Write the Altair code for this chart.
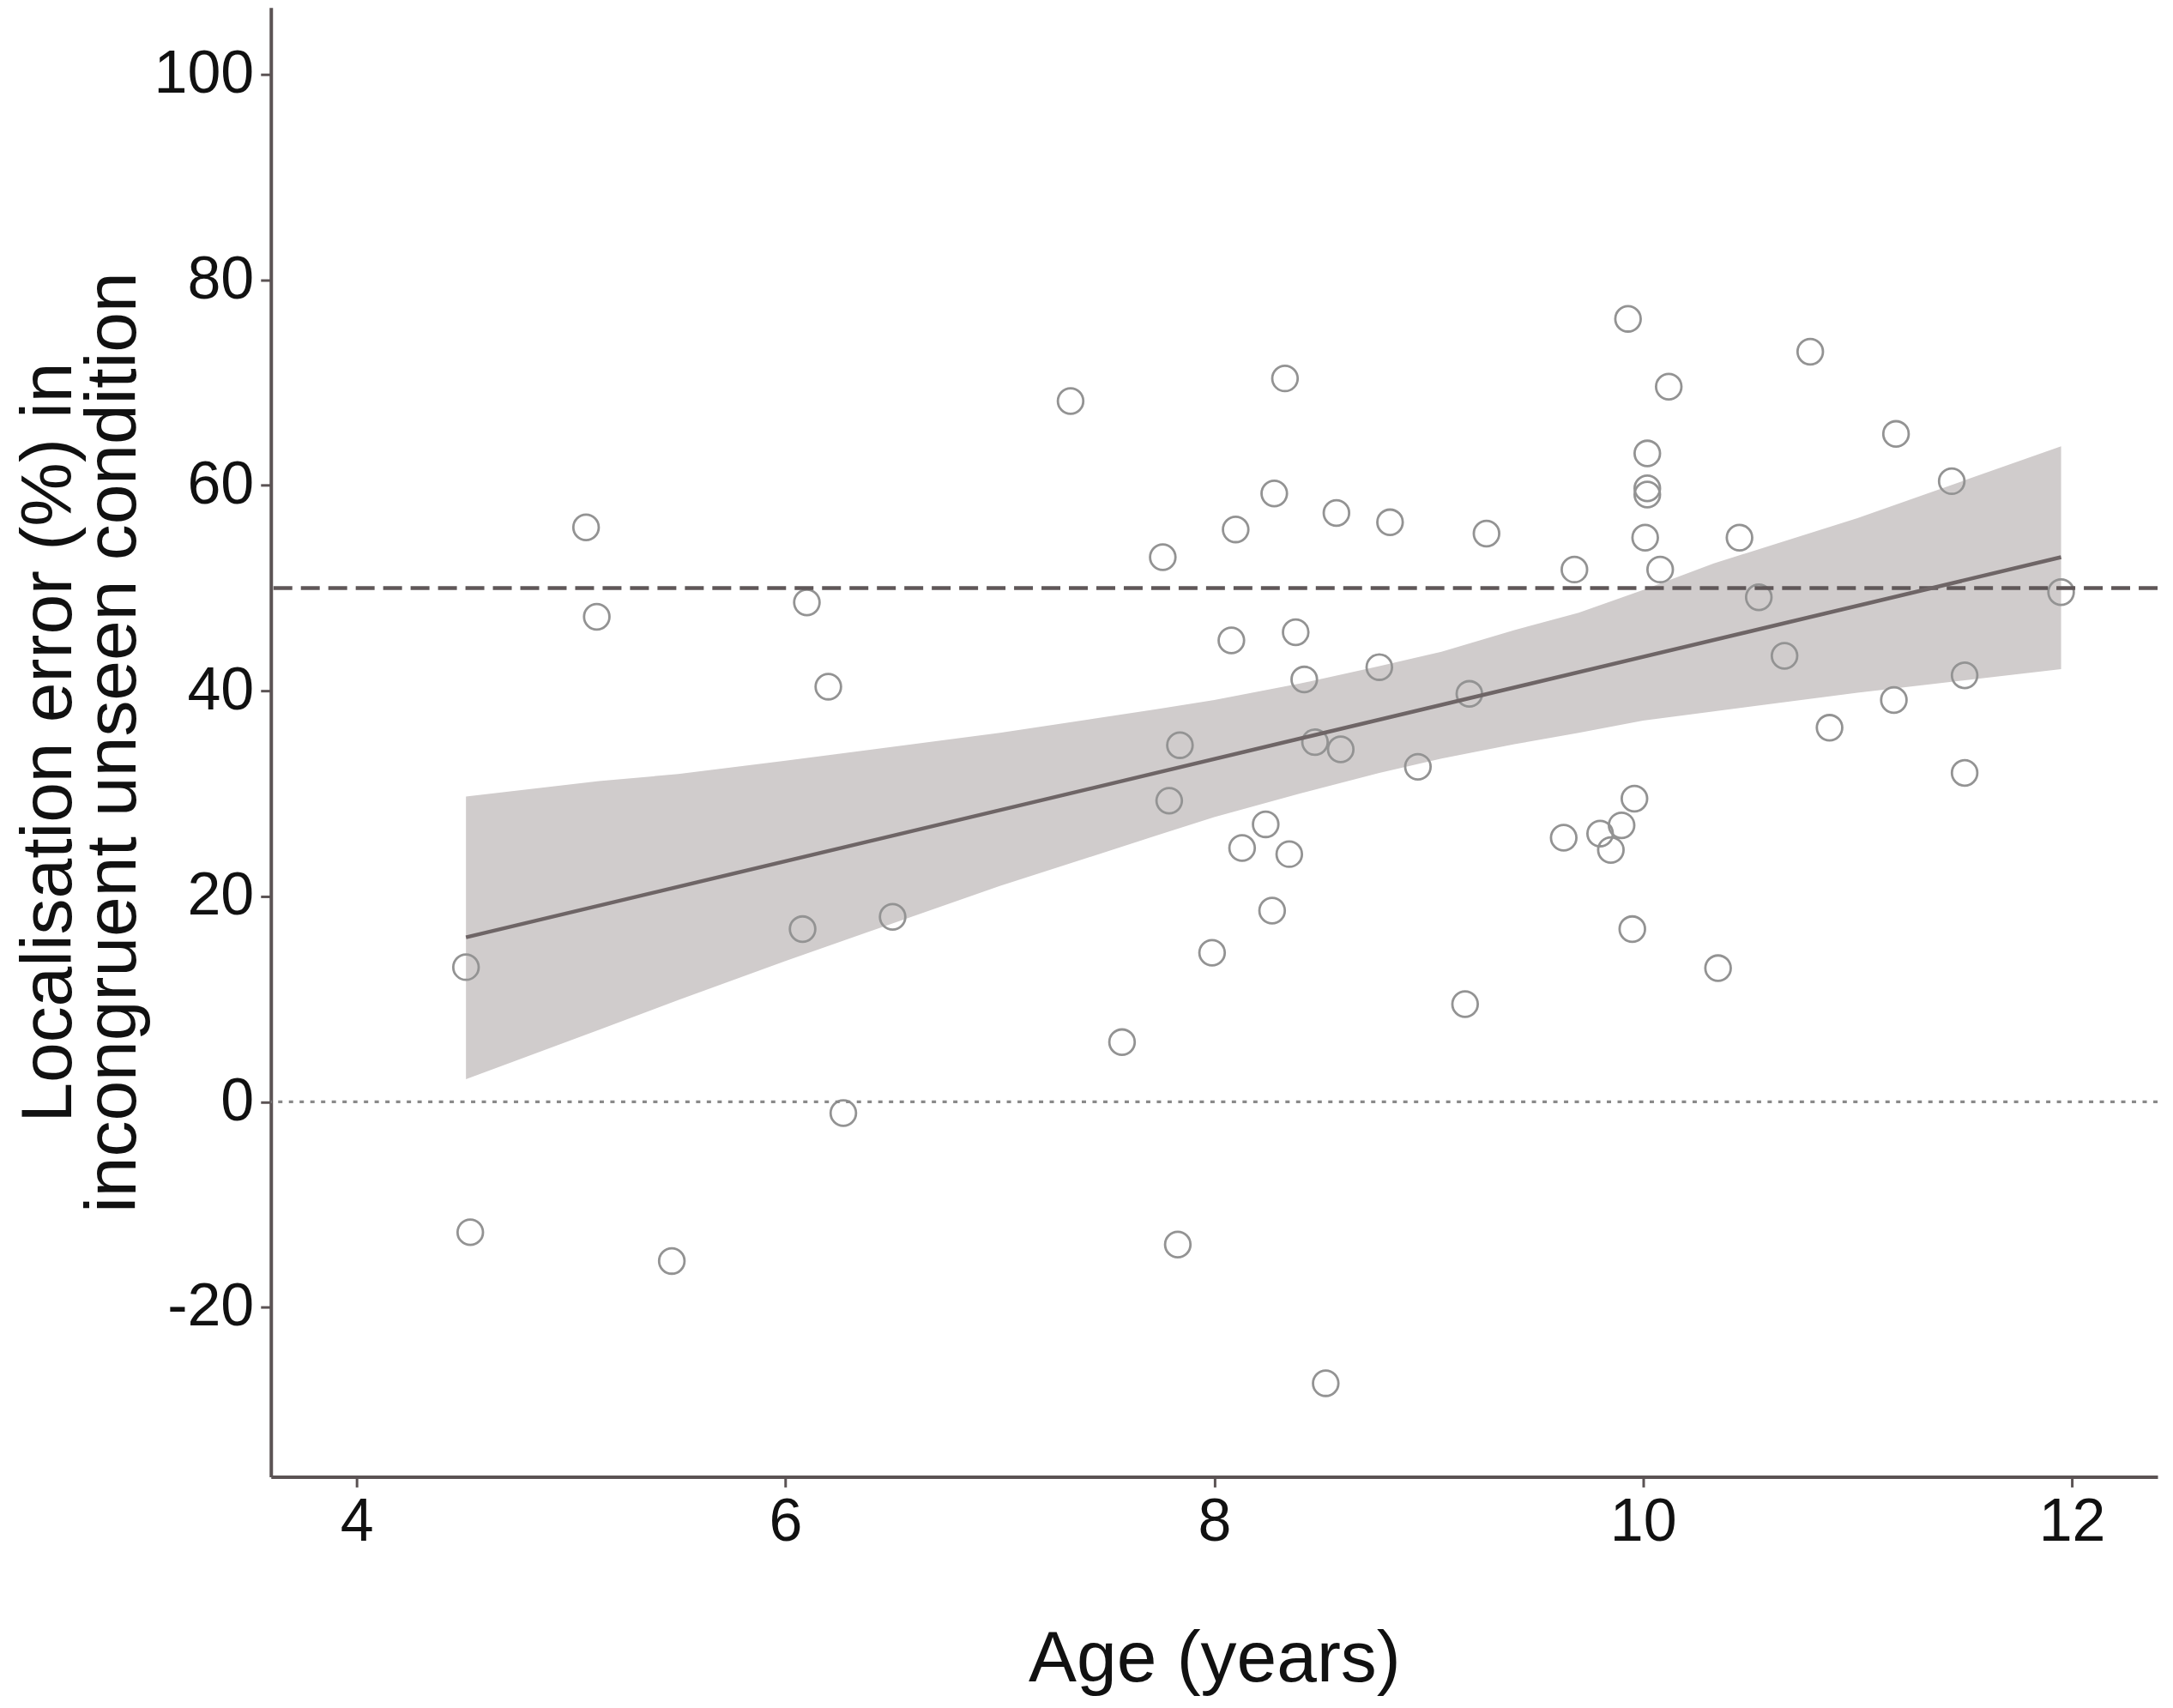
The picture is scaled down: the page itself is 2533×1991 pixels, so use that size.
import altair as alt
import pandas as pd

# ---- data ----
age = [4.51, 4.53, 5.07, 5.12, 5.47, 6.10, 6.20, 6.08, 6.27, 6.50,
       7.33, 7.57, 7.76, 7.79, 7.84, 7.83, 7.99, 8.08, 8.10, 8.13,
       8.24, 8.27, 8.28, 8.33, 8.35, 8.38, 8.42, 8.47, 8.52, 8.57,
       8.59, 8.77, 8.82, 8.95, 9.17, 9.19, 9.27, 9.63, 9.68, 9.80,
       9.85, 9.90, 9.93, 9.95, 9.96, 10.01, 10.02, 10.02, 10.02, 10.08,
       10.12, 10.35, 10.45, 10.54, 10.66, 10.78, 10.87, 11.17, 11.18, 11.50,
       11.50, 11.44, 11.95]
error = [13.1, -12.7, 55.9, 47.2, -15.5, 48.6, 40.4, 16.8, -1.1, 18.0,
         68.2, 5.8, 53.0, 29.3, 34.7, -13.9, 14.5, 44.9, 55.7, 24.7,
         27.0, 18.6, 59.2, 70.4, 24.1, 45.7, 41.1, 35.0, -27.4, 57.3,
         34.3, 42.3, 56.4, 32.6, 9.5, 39.7, 55.3, 25.7, 51.8, 26.1,
         24.5, 26.9, 76.2, 16.8, 29.5, 54.9, 63.1, 59.7, 59.1, 51.8,
         69.6, 13.0, 54.9, 49.1, 43.4, 73.0, 36.4, 39.1, 65.0, 41.5,
         32.0, 60.4, 49.6]

fit_x = [4.51, 11.95]
fit_y = [16.0, 53.0]

band_x = [4.51, 5.13, 5.5, 6.0, 7.0, 7.73, 8.0, 8.4, 8.77, 9.06, 9.4, 9.7,
          10.0, 10.33, 11.0, 11.95]
band_hi = [29.7, 31.2, 31.9, 33.2, 35.9, 38.2, 39.1, 40.7, 42.4, 43.8, 45.9, 47.6,
           49.8, 52.4, 56.8, 63.8]
band_lo = [2.2, 7.0, 9.9, 13.7, 21.0, 25.9, 27.7, 30.0, 32.0, 33.4, 34.8, 35.9,
           37.1, 38.0, 39.8, 42.1]

chance_level = [50]
zero_level = [0]

x_ticks = [4, 6, 8, 10, 12]
y_ticks = [-20, 0, 20, 40, 60, 80, 100]

FONT = "Liberation Sans"
AXIS_COL = "#5b5354"
LABEL_EXPR = "datum.value < 0 ? '-' + abs(datum.value) : '' + datum.value"

pts = pd.DataFrame({"age": age, "err": error})
fit = pd.DataFrame({"age": fit_x, "err": fit_y})
band = pd.DataFrame({"age": band_x, "hi": band_hi, "lo": band_lo})

W, H = 2201, 1714

xscale = alt.Scale(domain=[3.6, 12.4], nice=False, zero=False)
yscale = alt.Scale(domain=[-36.5, 106.5], nice=False, zero=False)

xaxis = alt.Axis(values=x_ticks, title="Age (years)", grid=False,
                 labelExpr=LABEL_EXPR,
                 tickSize=12, tickWidth=3, tickColor=AXIS_COL,
                 domainColor=AXIS_COL, domainWidth=4,
                 labelFont=FONT, labelFontSize=70, labelColor="#111111",
                 labelPadding=7,
                 titleFont=FONT, titleFontSize=84, titleFontWeight="normal",
                 titleColor="#111111", titleX=W / 2, titleY=238,
                 titleBaseline="alphabetic", titleAlign="center")
yaxis = alt.Axis(values=y_ticks,
                 title=["Localisation error (%) in", "incongruent unseen condition"],
                 labelExpr=LABEL_EXPR,
                 grid=False, tickSize=12, tickWidth=3, tickColor=AXIS_COL,
                 domainColor=AXIS_COL, domainWidth=4,
                 labelFont=FONT, labelFontSize=70, labelColor="#111111",
                 labelPadding=8,
                 titleFont=FONT, titleFontSize=84, titleFontWeight="normal",
                 titleColor="#111111", titleAngle=270, titleX=-233, titleY=H / 2,
                 titleBaseline="alphabetic", titleAlign="center",
                 titleLineHeight=75)

ribbon = alt.Chart(band).mark_area(color="#d0cccc", opacity=1).encode(
    x=alt.X("age:Q", scale=xscale, axis=xaxis),
    y=alt.Y("lo:Q", scale=yscale, axis=yaxis),
    y2="hi:Q",
)

points = alt.Chart(pts).mark_point(
    shape="circle", filled=False, size=880, strokeWidth=2.8,
    color="#939393", opacity=1,
).encode(x=alt.X("age:Q", scale=xscale), y=alt.Y("err:Q", scale=yscale))

dashed = alt.Chart(pd.DataFrame({"v": chance_level})).mark_rule(
    color="#5f5758", strokeWidth=4.5, strokeDash=[22, 10]
).encode(y=alt.Y("v:Q", scale=yscale))

dotted = alt.Chart(pd.DataFrame({"v": zero_level})).mark_rule(
    color="#8a8a8a", strokeWidth=3.3, strokeDash=[5, 7.5]
).encode(y=alt.Y("v:Q", scale=yscale))

line = alt.Chart(fit).mark_line(color="#6e6566", strokeWidth=4.5).encode(
    x=alt.X("age:Q", scale=xscale), y=alt.Y("err:Q", scale=yscale)
)

chart = alt.layer(ribbon, points, dotted, dashed, line).properties(
    width=W, height=H,
    autosize=alt.AutoSizeParams(type="none"),
    padding={"left": 308, "top": 0, "right": 10, "bottom": 262},
    background="white",
).configure_view(stroke=None)

chart.save("out.html", embed_options={"renderer": "svg", "actions": False})
